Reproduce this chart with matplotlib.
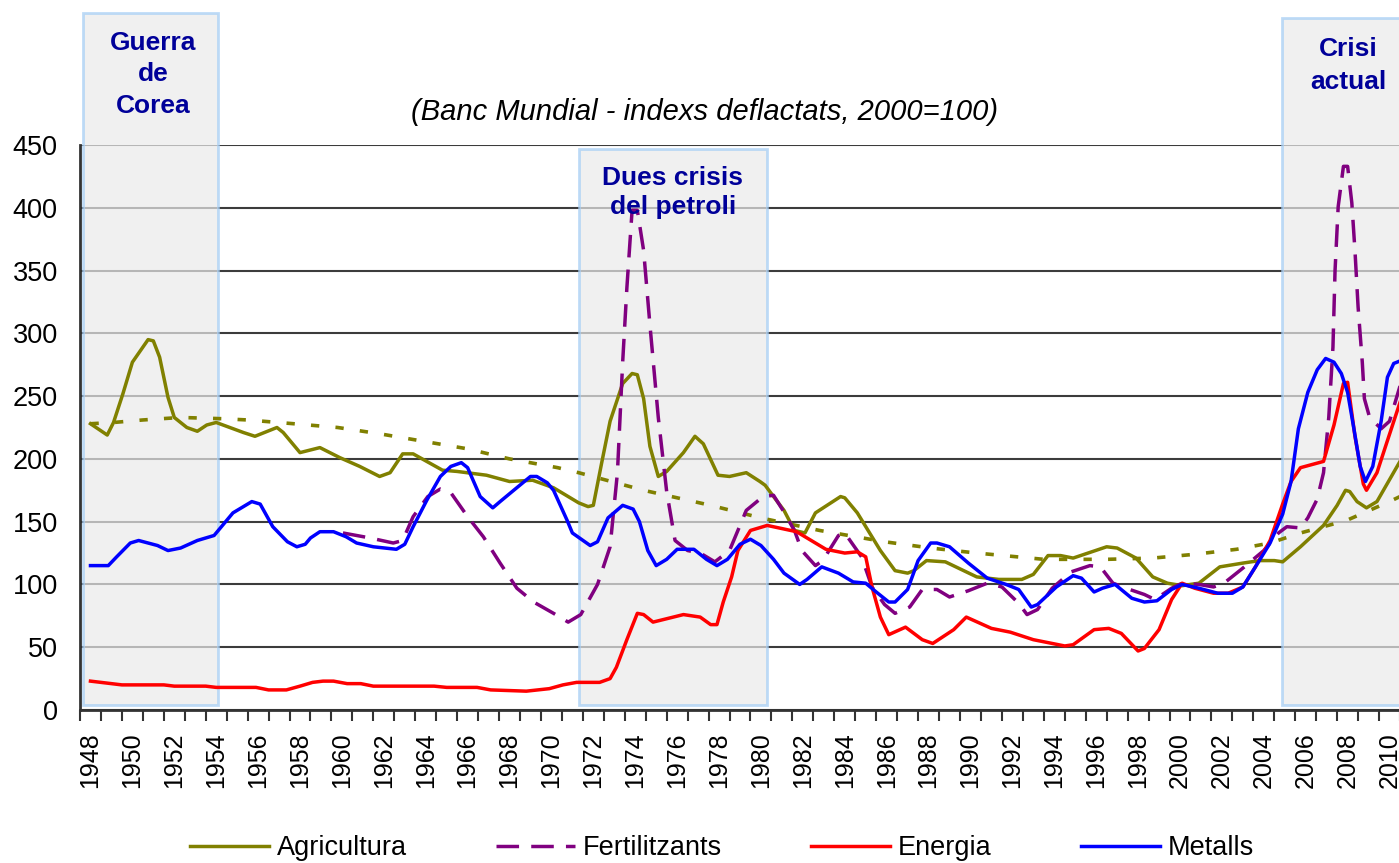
import matplotlib
matplotlib.use("Agg")
import matplotlib.pyplot as plt
from matplotlib.patches import Rectangle

plt.rcParams['font.family'] = ['Liberation Sans', 'DejaVu Sans']

# Agricultura
agri_years = [1948.0, 1948.8, 1949.1, 1949.55, 1950.0, 1950.75, 1951.0, 1951.3, 1951.7, 1952.0,
              1952.6, 1953.1, 1953.55, 1954.0, 1955.3, 1955.85, 1956.9, 1957.2, 1958.0, 1958.95,
              1959.9, 1960.85, 1961.8, 1962.3, 1962.9, 1963.4, 1964.8, 1965.5, 1966.9, 1968.0,
              1969.1, 1970.1, 1971.3, 1971.75, 1972.0, 1972.4, 1972.8, 1973.4, 1973.85, 1974.1,
              1974.4, 1974.7, 1975.1, 1975.5, 1976.3, 1976.85, 1977.25, 1977.95, 1978.5, 1979.3,
              1979.95, 1980.2, 1980.6, 1981.1, 1981.6, 1982.1, 1982.6, 1983.8, 1984.0, 1984.6,
              1985.7, 1986.4, 1987.0, 1987.3, 1987.9, 1988.8, 1989.3, 1990.3, 1991.35, 1992.45,
              1993.0, 1993.7, 1994.3, 1994.9, 1996.5, 1997.0, 1997.9, 1998.7, 1999.4, 2000.1,
              2000.9, 2001.9, 2003.0, 2003.8, 2004.5, 2004.9, 2005.75, 2006.85, 2007.5, 2007.9,
              2008.1, 2008.45, 2008.9, 2009.4, 2010.5]
agri = [228, 219, 229, 252, 277, 295, 294, 281, 249, 233,
        225, 222, 227, 229, 221, 218, 225, 221, 205, 209,
        201, 194, 186, 189, 204, 204, 191, 190, 187, 182,
        183, 177, 165, 162, 163, 197, 230, 260, 268, 267,
        248, 210, 186, 190, 205, 218, 212, 187, 186, 189,
        182, 179, 170, 159, 143, 141, 157, 170, 169, 157,
        127, 111, 109, 111, 119, 118, 114, 106, 104, 104,
        108, 123, 123, 121, 130, 129, 121, 106, 101, 99,
        101, 114, 117, 119, 119, 118, 130, 147, 163, 175,
        174, 166, 161, 166, 198]

# tendencia agricultura
trend_years = [1948.0, 1949.1, 1950.5, 1952.3, 1954.3, 1955.5, 1957.7, 1959.8, 1961.8, 1963.9,
               1966.0, 1968.0, 1970.3, 1971.3, 1974.4, 1977.6, 1980.0, 1982.8, 1985.9, 1988.1,
               1990.3, 1993.5, 1996.5, 1998.7, 2000.7, 2002.7, 2004.3, 2005.75, 2007.95, 2010.0,
               2010.5]
trend = [228, 229, 231, 233, 232, 231, 228, 225, 220, 214,
         208, 200, 193, 189, 175, 163, 153, 143, 134, 129,
         125, 120, 120, 121, 124, 128, 133, 141, 151, 166,
         170]

# Fertilitzants
fert_years = [1960.05, 1961.35, 1962.45, 1962.9, 1963.4, 1964.1, 1964.7, 1965.2, 1966.0, 1966.75,
              1967.55, 1968.35, 1969.15, 1970.1, 1970.8, 1971.4, 1972.2, 1972.8, 1973.15, 1973.4,
              1973.6, 1973.85, 1974.1, 1974.4, 1974.7, 1975.1, 1975.5, 1975.9, 1976.5, 1977.1,
              1977.8, 1978.5, 1979.3, 1980.1, 1980.6, 1981.05, 1981.6, 1981.95, 1982.6, 1982.95,
              1983.7, 1984.0, 1984.8, 1985.3, 1985.9, 1986.4, 1987.1, 1987.7, 1988.4, 1989.0,
              1989.9, 1990.8, 1991.5, 1992.3, 1992.7, 1993.2, 1993.9, 1994.8, 1995.7, 1996.2,
              1996.8, 1997.6, 1998.3, 1998.8, 1999.6, 2000.1, 2000.9, 2001.6, 2002.1, 2003.0,
              2004.0, 2004.7, 2005.1, 2005.75, 2006.1, 2006.55, 2006.85, 2007.1, 2007.3, 2007.4,
              2007.55, 2007.8, 2008.0, 2008.2, 2008.35, 2008.5, 2008.7, 2008.8, 2009.05, 2009.6,
              2010.0, 2010.5]
fert = [141, 137, 133, 135, 154, 170, 176, 173, 154, 138,
        117, 97, 86, 77, 70, 76, 100, 130, 189, 277,
        336, 398, 398, 366, 307, 233, 174, 135, 127, 125,
        118, 127, 159, 170, 171, 159, 143, 127, 115, 119,
        139, 141, 122, 98, 84, 77, 82, 96, 96, 90,
        95, 101, 98, 85, 76, 80, 97, 110, 115, 114,
        101, 96, 92, 88, 97, 101, 100, 98, 101, 113,
        127, 141, 146, 145, 153, 168, 189, 233, 289, 350,
        401, 433, 433, 404, 366, 321, 277, 248, 233, 224,
        230, 258]

# Energia
ener_years = [1948.0, 1949.5, 1951.5, 1952.0, 1953.5, 1954.0, 1955.9, 1956.5, 1957.35, 1958.0,
              1958.6, 1959.1, 1959.6, 1960.25, 1960.9, 1961.5, 1964.4, 1965.0, 1966.45, 1967.1,
              1968.8, 1969.9, 1970.55, 1971.2, 1972.3, 1972.8, 1973.1, 1973.6, 1974.1, 1974.4,
              1974.85, 1976.3, 1977.1, 1977.6, 1977.9, 1978.2, 1978.6, 1978.9, 1979.5, 1980.3,
              1981.7, 1982.2, 1983.1, 1984.0, 1984.6, 1985.0, 1985.3, 1985.7, 1986.1, 1986.9,
              1987.7, 1988.2, 1989.2, 1989.8, 1991.0, 1991.9, 1993.0, 1994.5, 1994.9, 1995.9,
              1996.6, 1997.2, 1998.0, 1998.3, 1999.0, 1999.6, 2000.1, 2000.7, 2001.6, 2002.3,
              2003.0, 2003.6, 2004.3, 2004.9, 2005.3, 2005.75, 2006.85, 2007.35, 2007.8, 2008.0,
              2008.35, 2008.75, 2008.9, 2009.4, 2009.85, 2010.5]
ener = [23, 20, 20, 19, 19, 18, 18, 16, 16, 19,
        22, 23, 23, 21, 21, 19, 19, 18, 18, 16,
        15, 17, 20, 22, 22, 25, 34, 56, 77, 76,
        70, 76, 74, 68, 68, 86, 106, 127, 143, 147,
        142, 137, 128, 125, 126, 122, 98, 74, 60, 66,
        56, 53, 64, 74, 65, 62, 56, 51, 52, 64,
        65, 61, 47, 49, 64, 88, 101, 97, 93, 93,
        98, 114, 135, 164, 182, 193, 198, 227, 260, 261,
        218, 180, 175, 189, 212, 245]

# Metalls
met_years = [1948.0, 1948.85, 1949.25, 1949.9, 1950.3, 1951.2, 1951.7, 1952.3, 1953.1, 1953.9,
             1954.2, 1954.8, 1955.7, 1956.1, 1956.7, 1957.4, 1957.85, 1958.25, 1958.5, 1958.95,
             1959.6, 1960.2, 1960.7, 1961.5, 1962.6, 1963.0, 1963.4, 1964.05, 1964.7, 1965.2,
             1965.7, 1966.0, 1966.6, 1967.2, 1967.55, 1968.2, 1969.0, 1969.3, 1969.8, 1970.1,
             1970.75, 1971.0, 1971.85, 1972.2, 1972.7, 1973.4, 1973.9, 1974.2, 1974.6, 1975.0,
             1975.5, 1976.0, 1976.8, 1977.4, 1977.9, 1978.4, 1979.0, 1979.5, 1980.0, 1980.6,
             1981.1, 1981.85, 1982.2, 1982.9, 1983.7, 1984.4, 1985.0, 1985.5, 1986.1, 1986.4,
             1987.0, 1987.5, 1988.1, 1988.4, 1989.0, 1989.9, 1990.8, 1991.7, 1992.3, 1992.9,
             1993.2, 1994.1, 1994.9, 1995.3, 1995.9, 1996.3, 1996.9, 1997.7, 1998.3, 1998.9,
             1999.6, 2000.1, 2000.9, 2001.8, 2002.5, 2003.0, 2003.6, 2004.3, 2004.9, 2005.3,
             2005.65, 2006.1, 2006.55, 2006.95, 2007.35, 2007.7, 2008.0, 2008.3, 2008.6, 2008.85,
             2009.2, 2009.6, 2009.9, 2010.2, 2010.5]
met = [115, 115, 122, 133, 135, 131, 127, 129, 135, 139,
       145, 157, 166, 164, 146, 134, 130, 132, 137, 142,
       142, 138, 133, 130, 128, 132, 146, 167, 186, 194,
       197, 193, 170, 161, 166, 175, 186, 186, 181, 175,
       151, 141, 131, 134, 153, 163, 160, 150, 127, 115,
       120, 128, 128, 120, 115, 120, 132, 136, 131, 120,
       109, 100, 104, 114, 109, 102, 101, 94, 86, 86,
       96, 119, 133, 133, 130, 117, 105, 100, 96, 82,
       84, 98, 107, 105, 94, 97, 100, 89, 86, 87,
       96, 100, 97, 93, 93, 98, 114, 133, 156, 182,
       224, 253, 271, 280, 277, 268, 253, 224, 194, 182,
       194, 230, 265, 276, 278]

tick_years = list(range(1948, 2011, 2))

# periodes de crisi: (inici, final, sostre, text)
crisis = [
    (1947.64, 1954.09, 555, "Guerra\nde\nCorea"),
    (1971.32, 1980.29, 447, "Dues crisis\ndel petroli"),
    (2004.87, 2011.5, 551, "Crisi\nactual"),
]

fig = plt.figure(figsize=(13.99, 8.63), dpi=100)
ax = fig.add_axes([80 / 1399, 153 / 863, 1320 / 1399, 565 / 863])

ax.set_xlim(1947.5, 2010.5)
ax.set_ylim(0, 450)

# zones de crisi
for x0, x1, top, label in crisis:
    rect = Rectangle((x0, 4), x1 - x0, top - 4, facecolor='#ebebeb', alpha=0.7,
                     edgecolor='#a3cdf5', linewidth=2.0, zorder=1.5, clip_on=False)
    ax.add_patch(rect)

ax.text(1951.0, 541, crisis[0][3], ha='center', va='top', fontsize=19, fontweight='bold',
        color='#000099', linespacing=1.4, zorder=5)
ax.text(1975.8, 433, crisis[1][3], ha='center', va='top', fontsize=19, fontweight='bold',
        color='#000099', linespacing=1.25, zorder=5)
ax.text(2008.05, 536, crisis[2][3], ha='center', va='top', fontsize=19, fontweight='bold',
        color='#000099', linespacing=1.45, zorder=5)

ax.plot(trend_years, trend, color='#808000', linewidth=2.6, dashes=(2.3, 4.5), zorder=3)
ax.plot(agri_years, agri, color='#808000', linewidth=2.5, label='Agricultura', zorder=3)
ax.plot(fert_years, fert, color='#800080', linewidth=2.5, dashes=(6.5, 3.5),
        label='Fertilitzants', zorder=3)
ax.plot(ener_years, ener, color='#ff0000', linewidth=2.5, label='Energia', zorder=3)
ax.plot(met_years, met, color='#0000ff', linewidth=2.5, label='Metalls', zorder=3)

# eixos
ax.set_yticks(range(0, 451, 50))
ax.yaxis.grid(True, color='#3c3c3c', linewidth=1.5, zorder=0)
ax.set_axisbelow(True)
ax.tick_params(axis='y', length=0, pad=16, labelsize=19.5)

ax.set_xticks(tick_years)
ax.set_xticklabels([str(y) for y in tick_years], rotation=90, fontsize=18)
ax.set_xticks([y + 0.5 for y in range(1947, 2011)], minor=True)
ax.tick_params(axis='x', which='major', length=0, pad=16)
ax.tick_params(axis='x', which='minor', length=8, width=1.5, color='#333333', direction='out')

for side in ['top', 'right']:
    ax.spines[side].set_visible(False)
for side in ['left', 'bottom']:
    ax.spines[side].set_color('#333333')
    ax.spines[side].set_linewidth(2)

fig.text(705 / 1399, 1 - 112 / 863, "(Banc Mundial - indexs deflactats, 2000=100)",
         ha='center', va='center', fontsize=21, style='italic')

handles, labels = ax.get_legend_handles_labels()
fig.legend(handles, labels, loc='center', bbox_to_anchor=(722 / 1399, 15 / 863), ncol=4,
           frameon=False, fontsize=19.5, handlelength=2.9, handletextpad=0.3,
           columnspacing=3.3)

fig.savefig('out.png', dpi=100)
